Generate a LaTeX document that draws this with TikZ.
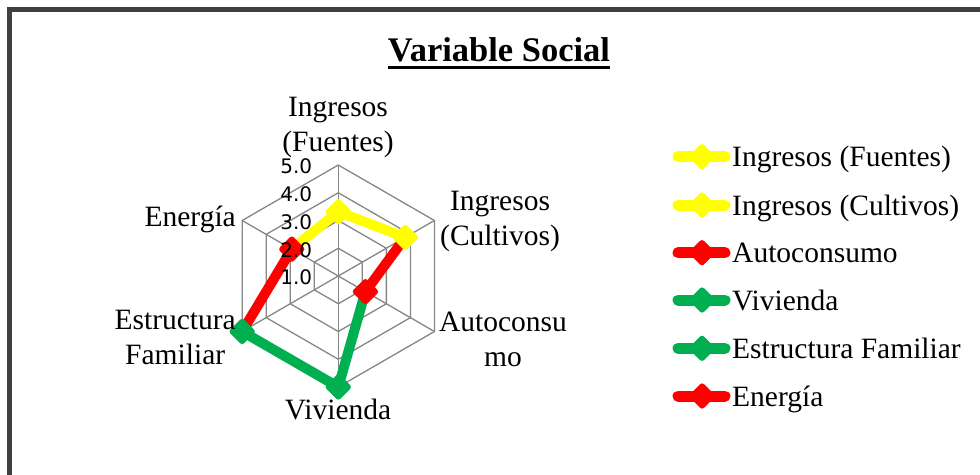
\documentclass[tikz,border=0pt]{standalone}
\usepackage{fontspec}
\setmainfont{Liberation Serif}
\newfontfamily\axisfont{DejaVu Sans}
\usetikzlibrary{shapes.geometric}
\definecolor{frameC}{HTML}{404040}
\definecolor{gridC}{HTML}{868686}
\definecolor{yel}{HTML}{FFFF00}
\definecolor{redC}{HTML}{FF0000}
\definecolor{grn}{HTML}{00B050}
\begin{document}
\begin{tikzpicture}[x=1pt,y=-1pt,
  lbl/.style={inner sep=0pt, font=\fontsize{29.5}{35}\selectfont, align=center},
  tick/.style={inner sep=0pt, anchor=east, font=\axisfont\fontsize{20}{24}\selectfont},
  gridline/.style={draw=gridC, line width=1.3pt},
  series/.style={line width=10pt, line cap=round, draw=#1},
  dmark/.style={diamond, inner sep=0pt, minimum size=22pt, line width=5.5pt, line join=round, draw=#1, fill=#1},
  legline/.style={line width=11pt, line cap=round, draw=#1}
]
\useasboundingbox (0,0) rectangle (980,474);
\draw[frameC, line width=5pt] (9.5,9.5) rectangle (995,490);

% title
\node[inner sep=0pt, font=\bfseries\fontsize{34.5}{40}\selectfont, anchor=base] (title) at (499,61.7) {Variable Social};
\draw[line width=3pt] ([yshift=-6pt]title.base west) -- ([yshift=-6pt]title.base east);

% radar chart
\begin{scope}[shift={(338.3,276)}, y=1pt]
  \coordinate (O) at (0,0);
  \foreach \r in {27.75,55.5,83.25,111}
    \draw[gridline] (90:\r) -- (30:\r) -- (-30:\r) -- (-90:\r) -- (-150:\r) -- (150:\r) -- cycle;
  \foreach \a in {90,30,-30,-90,-150,150}
    \draw[gridline] (O) -- (\a:111);
  \coordinate (p1) at (90:64.3);
  \coordinate (p2) at (30:77.3);
  \coordinate (p3) at (-30:31.3);
  \coordinate (p4) at (-90:111);
  \coordinate (p5) at (-150:111);
  \coordinate (p6) at (150:53.7);
  \draw[series=yel] (p6) -- (p1);
  \draw[series=yel] (p1) -- (p2);
  \draw[series=redC] (p2) -- (p3);
  \draw[series=grn] (p3) -- (p4);
  \draw[series=grn] (p4) -- (p5);
  \draw[series=redC] (p5) -- (p6);
  \node[dmark=yel] (m1) at (p1) {};
  \node[dmark=yel] (m2) at (p2) {};
  \node[dmark=redC] (m3) at (p3) {};
  \node[dmark=grn] (m4) at (p4) {};
  \node[dmark=grn] (m5) at (p5) {};
  \node[dmark=redC] (m6) at (p6) {};
  \node[tick] (t5) at (-26,109.5) {5.0};
  \node[tick] (t4) at (-26,81.7) {4.0};
  \node[tick] (t3) at (-26,54) {3.0};
  \node[tick] (t2) at (-26,26.2) {2.0};
  \node[tick] (t1) at (-26,-1.5) {1.0};
\end{scope}

% axis labels
\node[lbl] (lF) at (338,127.2) {Ingresos\\(Fuentes)};
\node[lbl] (lC) at (500,221.3) {Ingresos\\(Cultivos)};
\node[lbl] (lA) at (503,339) {Autoconsu\\mo};
\node[lbl, anchor=base] (lV) at (338,419) {Vivienda};
\node[lbl, anchor=east] (lE) at (236,337.5) {Estructura\\Familiar};
\node[lbl, anchor=base east] (lEn) at (236,226.7) {Energía};

% legend
\foreach \i/\col/\txt/\yy in {1/yel/Ingresos (Fuentes)/156.7, 2/yel/Ingresos (Cultivos)/205, 3/redC/Autoconsumo/252.7, 4/grn/Vivienda/300, 5/grn/Estructura Familiar/348.3, 6/redC/Energía/396}{
  \draw[legline=\col] (678,\yy) -- (725,\yy);
  \node[dmark=\col] (lm\i) at (702,\yy) {};
  \node[lbl, anchor=base west] (lt\i) at (732,\yy+10) {\txt};
}
\end{tikzpicture}
\end{document}
